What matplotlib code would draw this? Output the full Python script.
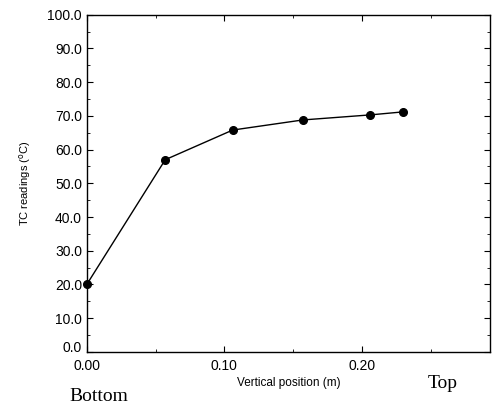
import matplotlib.pyplot as plt
import matplotlib.transforms as mtransforms
from matplotlib.ticker import MultipleLocator

# posiciones verticales y lecturas de termopares
posicion = [0.0, 0.057, 0.106, 0.157, 0.206, 0.230]
lectura = [20.0, 57.0, 65.8, 68.8, 70.3, 71.2]
yticks = [0, 10, 20, 30, 40, 50, 60, 70, 80, 90, 100]
xticks = [0.0, 0.10, 0.20]

plt.rcParams['font.family'] = ['Liberation Sans', 'DejaVu Sans']
fig = plt.figure(figsize=(4.96, 4.11), dpi=100)
ax = fig.add_axes([0.175, 0.144, 0.813, 0.82])

ax.plot(posicion, lectura, color='black', lw=1.0, marker='o', ms=5.5, clip_on=False)

ax.set_xlim(0, 0.293)
ax.set_ylim(0, 100)
ax.set_yticks(yticks)
ax.set_yticklabels(['%.1f' % v for v in yticks])
ax.set_xticks(xticks)
ax.set_xticklabels(['%.2f' % v for v in xticks])
ax.xaxis.set_minor_locator(MultipleLocator(0.05))
ax.yaxis.set_minor_locator(MultipleLocator(5))
ax.tick_params(which='both', direction='in', top=True, right=True, labelsize=10)
ax.tick_params(which='major', length=4)
ax.tick_params(which='minor', length=2)
ax.tick_params(axis='x', pad=5)
for s in ax.spines.values():
    s.set_linewidth(1.0)

# subir un poco la etiqueta 0.0 como en el original
lab0 = ax.get_yticklabels()[0]
lab0.set_transform(lab0.get_transform() + mtransforms.ScaledTranslation(0, 4 / 72, fig.dpi_scale_trans))

ax.set_xlabel('Vertical position (m)', fontsize=8.5, labelpad=3)
ax.set_ylabel('TC readings ($^{\\rm o}$C)', fontsize=8, labelpad=10)

fig.text(0.2, 0.025, 'Bottom', family='Liberation Serif', fontsize=14, ha='center')
fig.text(0.893, 0.055, 'Top', family='Liberation Serif', fontsize=14, ha='center')

fig.savefig('out.png', dpi=100)
